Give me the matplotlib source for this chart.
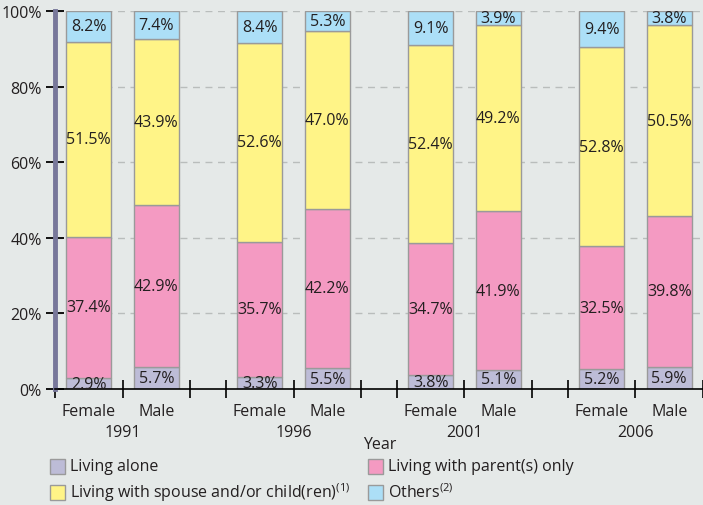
import matplotlib
matplotlib.use("Agg")
import matplotlib.pyplot as plt
import matplotlib.transforms as mtransforms
from matplotlib.patches import Rectangle
import numpy as np

plt.rcParams['font.family'] = ['Open Sans', 'DejaVu Sans']
plt.rcParams['mathtext.fontset'] = 'custom'
plt.rcParams['mathtext.rm'] = 'Open Sans'
plt.rcParams['mathtext.it'] = 'Open Sans'

years = ['1991', '1996', '2001', '2006']
sexes = ['Female', 'Male']
# order per bar: F1991, M1991, F1996, M1996, ...
alone = [2.9, 5.7, 3.3, 5.5, 3.8, 5.1, 5.2, 5.9]
parents = [37.4, 42.9, 35.7, 42.2, 34.7, 41.9, 32.5, 39.8]
spouse = [51.5, 43.9, 52.6, 47.0, 52.4, 49.2, 52.8, 50.5]
others = [8.2, 7.4, 8.4, 5.3, 9.1, 3.9, 9.4, 3.8]

series = [alone, parents, spouse, others]
names = ['Living alone', 'Living with parent(s) only',
         r'Living with spouse and/or child(ren)$^{(1)}$', r'Others$^{(2)}$']
colors = ['#bdbcd7', '#f49ac2', '#fff487', '#acdff7']

bg = '#e5e9e8'
txt = '#231f20'
edge = '#9a9a9a'
fs = 11.5

fig = plt.figure(figsize=(7.03, 5.06), dpi=100, facecolor=bg)
ax = fig.add_axes([55 / 703, 116 / 506, 648 / 703, 378 / 506], facecolor=bg)

step = 172 / 68
width = 45 / 68
xs = np.array([g * step + i + 0.5 for g in range(len(years)) for i in range(2)])

for y in [20, 40, 60, 80, 100]:
    ax.axhline(y, color='#b9bdbc', lw=1, ls=(0, (5, 4)), zorder=0)

bottom = np.zeros(len(xs))
for vals, col in zip(series, colors):
    vals = np.array(vals)
    ax.bar(xs, vals, width, bottom=bottom, color=col, edgecolor=edge,
           linewidth=1, zorder=2)
    for x, b, v in zip(xs, bottom, vals):
        ax.text(x, b + v / 2, f'{v:.1f}%', ha='center', va='center',
                fontsize=fs, color=txt, zorder=3)
    bottom += vals

ax.set_xlim(0, 648 / 68)
ax.set_ylim(0, 100)

ax.set_yticks([0, 20, 40, 60, 80, 100])
ax.set_yticklabels([f'{v}%' for v in range(0, 101, 20)], fontsize=fs, color=txt)
ax.tick_params(axis='y', direction='inout', length=13, width=1.3, pad=3, color='black')

bounds = [g * step + i for g in range(len(years)) for i in range(3)]
ax.set_xticks(bounds)
ax.set_xticklabels([''] * len(bounds))
ax.set_xticks(xs, minor=True)
ax.set_xticklabels(sexes * len(years), minor=True, fontsize=fs, color=txt)
ax.tick_params(axis='x', which='major', direction='inout', length=13, width=1.2)
ax.tick_params(axis='x', which='minor', length=0, pad=10)

trans = mtransforms.blended_transform_factory(ax.transData, fig.transFigure)
for g, yr in enumerate(years):
    ax.text(g * step + 1, 1 - 433 / 506, yr, transform=trans, ha='center',
            va='center', fontsize=fs, color=txt)
fig.text(380 / 703, 1 - 445 / 506, 'Year', ha='center', va='center',
         fontsize=fs, color=txt)

for s in ['top', 'right']:
    ax.spines[s].set_visible(False)
ax.spines['left'].set_color('#77779a')
ax.spines['left'].set_linewidth(3.5)
ax.spines['bottom'].set_color('black')
ax.spines['bottom'].set_linewidth(1.2)

# legend
leg_pos = [(50, 467), (368, 467), (50, 493), (368, 493)]
for (px, py), col, nm in zip(leg_pos, colors[:1] + colors[1:2] + colors[2:3] + colors[3:],
                             names):
    fig.patches.append(Rectangle((px / 703, 1 - (py + 7.5) / 506), 15 / 703, 15 / 506,
                                 transform=fig.transFigure, facecolor=col,
                                 edgecolor=edge, linewidth=1))
    fig.text((px + 20) / 703, 1 - py / 506, nm, ha='left', va='center',
             fontsize=fs, color=txt)

fig.savefig('out.png', dpi=100, facecolor=bg)
